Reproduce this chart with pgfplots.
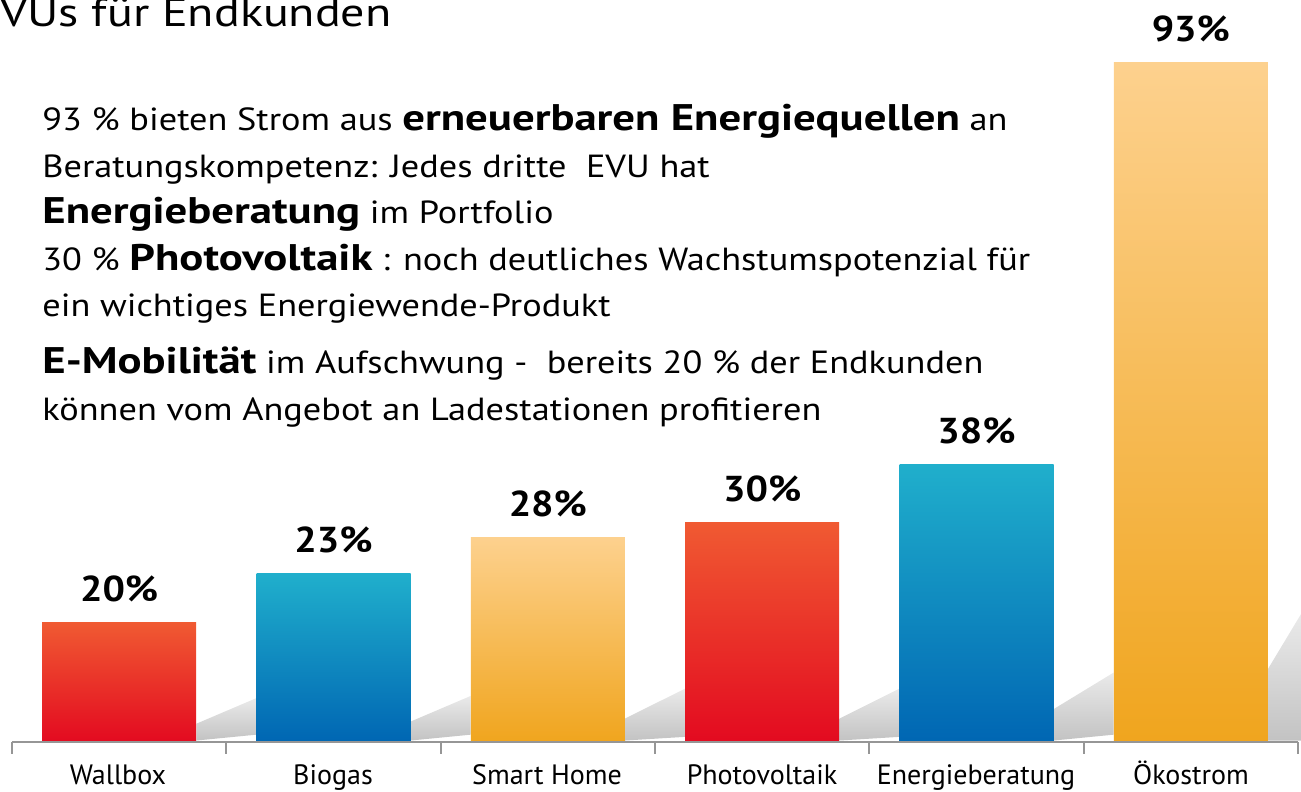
\documentclass[border=0pt]{standalone}
\usepackage{fontspec}
\setmainfont{PT Sans}
\newfontfamily\txt{PT Sans}[FakeStretch=1.135, BoldFeatures={FakeStretch=1.21}]
\newfontfamily\lbl{PT Sans}[BoldFeatures={FakeStretch=1.1}]
\newfontfamily\ttl{PT Sans}[FakeStretch=1.2]
\usepackage{pgfplots}
\pgfplotsset{compat=1.18}
\definecolor{redT}{RGB}{240,90,50}
\definecolor{redB}{RGB}{227,10,32}
\definecolor{bluT}{RGB}{32,175,204}
\definecolor{bluB}{RGB}{0,102,179}
\definecolor{orgT}{RGB}{253,209,142}
\definecolor{orgB}{RGB}{240,165,30}
\definecolor{axgray}{RGB}{150,150,150}
\definecolor{shad}{RGB}{195,195,195}
\begin{document}
\begin{tikzpicture}
\begin{axis}[
  at={(0,0)}, anchor=south west,
  scale only axis, width=650.5pt, height=396pt,
  xmin=-0.556, xmax=5.514, ymin=-6.84, ymax=101.5,
  hide axis, clip=false,
  bar width=0.7185,
  every node near coord/.append style={font=\lbl\fontsize{18}{20}\selectfont\bfseries, anchor=south, inner sep=0pt, yshift=10pt, text=black},
  shadow/.style={draw=none, top color=white!65!shad, bottom color=shad, forget plot},
  bar/.style={ybar, bar shift=0pt, draw=none, point meta=explicit symbolic, nodes near coords={\pgfplotspointmeta}},
]
% shadows behind the bars
\addplot[shadow] coordinates {(0.36,0.2) (0.36,2.5) (0.64,6) (0.64,1)} -- cycle;
\addplot[shadow] coordinates {(1.36,0.2) (1.36,2.8) (1.64,6.3) (1.64,1)} -- cycle;
\addplot[shadow] coordinates {(2.36,0.2) (2.36,3.2) (2.64,7.3) (2.64,0.7)} -- cycle;
\addplot[shadow] coordinates {(3.36,0.2) (3.36,3.2) (3.64,7.3) (3.64,0.7)} -- cycle;
\addplot[shadow] coordinates {(4.36,0.2) (4.36,4.5) (4.64,9.5) (4.64,1)} -- cycle;
\addplot[shadow] coordinates {(5.36,0.2) (5.36,10) (5.514,17.5) (5.514,0.2)} -- cycle;
% bars (one plot per bar so each has its own gradient)
\addplot[bar, top color=redT, bottom color=redB] coordinates {(0,16.3) [20\%]};
\addplot[bar, top color=bluT, bottom color=bluB] coordinates {(1,23) [23\%]};
\addplot[bar, top color=orgT, bottom color=orgB] coordinates {(2,28) [28\%]};
\addplot[bar, top color=redT, bottom color=redB] coordinates {(3,30) [30\%]};
\addplot[bar, top color=bluT, bottom color=bluB] coordinates {(4,38) [38\%]};
\addplot[bar, top color=orgT, bottom color=orgB] coordinates {(5,93) [93\%]};
\end{axis}
% x axis line and ticks
\draw[axgray, line width=1pt] (6pt,25pt) -- (649pt,25pt);
\foreach \tk in {6,113.17,220.33,327.5,434.67,541.83,649} {
  \draw[axgray, line width=1pt] (\tk pt,25pt) -- (\tk pt,19pt);
}
% category labels
\begin{scope}[every node/.style={anchor=base, inner sep=0pt, font=\fontsize{14}{16}\selectfont}]
\node at (59pt,3.5pt) {Wallbox};
\node at (166.5pt,3.5pt) {Biogas};
\node at (273.5pt,3.5pt) {Smart Home};
\node at (381pt,3.5pt) {Photovoltaik};
\node at (488pt,3.5pt) {Energieberatung};
\node at (595.5pt,3.5pt) {Ökostrom};
\end{scope}
% title (cut off at the left)
\node[anchor=base east, inner sep=0pt, font=\ttl\fontsize{20}{22}\selectfont] at (196pt,382.5pt) {EVUs für Endkunden};
% text block
\newcommand{\B}[1]{{\fontsize{18.5}{20}\selectfont\bfseries #1}}
\begin{scope}[every node/.style={anchor=base west, inner sep=0pt, font=\txt\fontsize{16}{19}\selectfont}]
\node at (21pt,330.5pt) {93 \% bieten Strom aus \B{erneuerbaren Energiequellen} an};
\node at (21pt,307pt) {Beratungskompetenz: Jedes dritte\ \ EVU hat};
\node at (21pt,284pt) {\B{Energieberatung} im Portfolio};
\node at (21pt,260.5pt) {30 \% \B{Photovoltaik} : noch deutliches Wachstumspotenzial für};
\node at (21pt,237.5pt) {ein wichtiges Energiewende-Produkt};
\node at (21pt,209pt) {\B{E-Mobilität} im Aufschwung -\ \ bereits 20 \% der Endkunden};
\node at (21pt,185.5pt) {können vom Angebot an Ladestationen profitieren};
\end{scope}
\pgfresetboundingbox
\path[use as bounding box] (0,0) rectangle (650.5pt,396pt);
\end{tikzpicture}
\end{document}
